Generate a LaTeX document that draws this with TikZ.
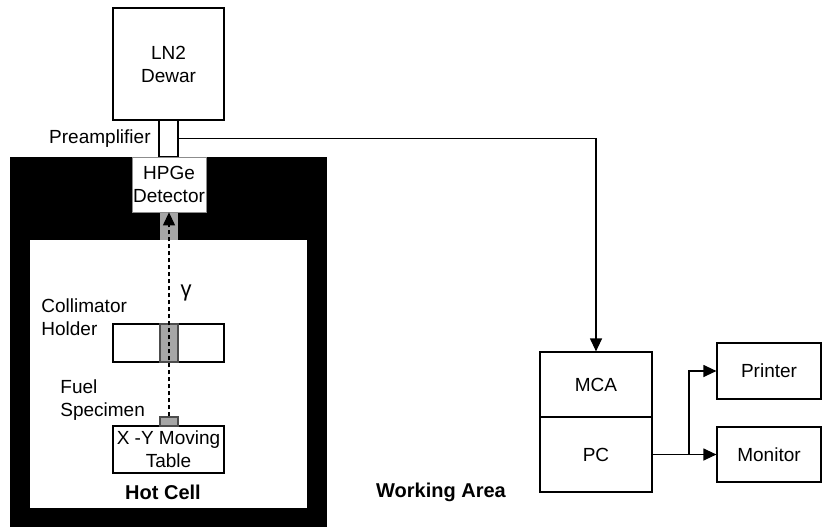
\documentclass[tikz,border=0pt]{standalone}
\usepackage{fontspec}
\setmainfont{Liberation Sans}
\usetikzlibrary{arrows.meta, positioning}
\tikzset{
  box/.style={rectangle, draw, fill=white, line width=0.6pt, inner sep=0pt,
              align=center, font=\fontsize{9.5}{11.5}\selectfont},
  grayblock/.style={rectangle, draw=black!70, fill=black!35, line width=0.6pt, inner sep=0pt},
  tag/.style={align=left, inner sep=0pt, font=\fontsize{9.5}{11.5}\selectfont},
  area/.style={inner sep=0pt, font=\fontsize{10}{12}\selectfont\bfseries},
  arrow/.style={-{Triangle[length=6.5pt,width=6pt]}, line width=0.6pt},
}
\begin{document}
\begin{tikzpicture}[x=0.5pt, y=-0.5pt]
  \useasboundingbox (0,0) rectangle (822,529);

  % Hot cell walls
  \fill[black] (10,157) rectangle (327,527);
  \fill[white] (30,240) rectangle (307,508);

  % Dewar, preamplifier and detector
  \node[box, minimum width=55.5pt, minimum height=56pt] (dewar) at (168.5,64) {LN2\\Dewar};
  \node[box, minimum width=9.5pt, minimum height=18.5pt] (preamp) at (168.5,138.5) {};
  \node[tag, anchor=east] (preamptag) at (151,139) {Preamplifier};
  \node[box, draw=black!45, line width=0.4pt, minimum width=37pt, minimum height=27.5pt]
    (det) at (169,184.5) {HPGe\\Detector};
  \node[grayblock, draw=none, minimum width=9pt, minimum height=13.5pt] (port) at (169,226.5) {};

  % Collimator and specimen
  \node[box, minimum width=55.5pt, minimum height=19pt] (colli) at (168.5,343) {};
  \node[grayblock, minimum width=9pt, minimum height=19pt] (slit) at (169,343) {};
  \node[tag, anchor=west] (collitag) at (41,317) {Collimator\\Holder};
  \node[box, minimum width=55.5pt, minimum height=23.5pt] (table) at (168.5,449.5)
    {X -Y Moving\\Table};
  \node[grayblock, minimum width=9pt, minimum height=4.5pt] (spec) at (169,421.5) {};
  \node[tag, anchor=west] (spectag) at (60,400) {Fuel\\Specimen};

  % gamma path
  \draw[arrow, dash pattern=on 2pt off 1.5pt] (spec.north) -- (det.south);
  \node[tag, font=\fontsize{11}{13}\selectfont] (gamma) at (186,293) {γ};

  \node[area] (hotcell) at (163,492) {Hot Cell};
  \node[area] (work) at (441,492) {Working Area};

  % Working area devices
  \node[box, minimum width=56pt, minimum height=32.5pt] (mca) at (596,384.5) {MCA};
  \node[box, minimum width=56pt, minimum height=37.5pt] (pc) at (596,454.5) {PC};
  \node[box, minimum width=52pt, minimum height=28pt] (printer) at (769,371) {Printer};
  \node[box, minimum width=52pt, minimum height=27.5pt] (monitor) at (769,454.5) {Monitor};
  \coordinate (split) at (689,454.5);

  % Signal lines
  \draw[arrow] (preamp.east) -| (mca.north);
  \draw[arrow] (pc.east) -- (monitor.west);
  \draw[arrow] (split) |- (printer.west);
\end{tikzpicture}
\end{document}
